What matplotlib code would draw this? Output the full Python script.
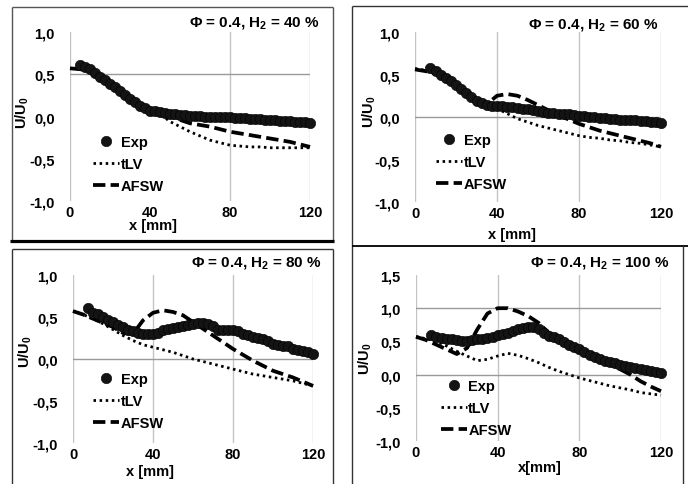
import numpy as np
import matplotlib
matplotlib.use('Agg')
import matplotlib.pyplot as plt
from matplotlib.lines import Line2D

plt.rcParams['font.family'] = ['Liberation Sans', 'DejaVu Sans']
plt.rcParams['font.weight'] = 'bold'
plt.rcParams['mathtext.fontset'] = 'custom'
plt.rcParams['mathtext.rm'] = 'Liberation Sans:bold'
plt.rcParams['mathtext.it'] = 'Liberation Sans:bold'
plt.rcParams['mathtext.bf'] = 'Liberation Sans:bold'

W, H = 688, 485

# model curves, x = 0..120 mm every 5 mm
x_model = np.arange(0, 121, 5)

# ---- H2 = 40 %
exp40 = [0.61, 0.59, 0.56, 0.52, 0.47, 0.43, 0.39, 0.35, 0.30, 0.25, 0.21, 0.17,
         0.13, 0.10, 0.07, 0.06, 0.05, 0.04, 0.03, 0.03, 0.02, 0.02, 0.01, 0.01,
         0.01, 0.00, 0.00, 0.00, -0.01, -0.01, -0.01, -0.02, -0.02, -0.02, -0.03,
         -0.03, -0.03, -0.04, -0.04, -0.04, -0.05, -0.05, -0.05, -0.06, -0.06,
         -0.07, -0.08]
tlv40 = [0.57, 0.56, 0.54, 0.48, 0.41, 0.33, 0.24, 0.16, 0.09, 0.03, -0.06, -0.12,
         -0.18, -0.23, -0.28, -0.31, -0.34, -0.35, -0.36, -0.36, -0.37, -0.37,
         -0.37, -0.37, -0.37]
afsw40 = [0.57, 0.56, 0.54, 0.48, 0.41, 0.33, 0.24, 0.16, 0.09, 0.04, 0.00, -0.04,
          -0.08, -0.10, -0.12, -0.15, -0.18, -0.20, -0.22, -0.24, -0.26, -0.28,
          -0.30, -0.33, -0.36]

# ---- H2 = 60 %
exp60 = [0.58, 0.54, 0.50, 0.46, 0.42, 0.38, 0.33, 0.28, 0.23, 0.19, 0.16, 0.14,
         0.13, 0.13, 0.13, 0.12, 0.12, 0.11, 0.10, 0.09, 0.08, 0.07, 0.06, 0.05,
         0.05, 0.04, 0.04, 0.03, 0.02, 0.01, 0.01, 0.00, 0.00, -0.01, -0.01, -0.02,
         -0.02, -0.03, -0.03, -0.04, -0.04, -0.05, -0.05, -0.06, -0.06, -0.07]
tlv60 = [0.57, 0.55, 0.52, 0.46, 0.39, 0.31, 0.22, 0.15, 0.10, 0.04, -0.02, -0.06,
         -0.10, -0.13, -0.16, -0.19, -0.22, -0.24, -0.25, -0.27, -0.28, -0.30,
         -0.31, -0.33, -0.35]
afsw60 = [0.56, 0.54, 0.51, 0.45, 0.38, 0.30, 0.21, 0.15, 0.25, 0.27, 0.25, 0.20,
          0.14, 0.08, 0.02, -0.03, -0.08, -0.12, -0.16, -0.19, -0.22, -0.25,
          -0.28, -0.31, -0.35]

# ---- H2 = 80 %
exp80 = [0.61, 0.55, 0.53, 0.50, 0.47, 0.44, 0.41, 0.38, 0.35, 0.33, 0.31, 0.30,
         0.30, 0.30, 0.31, 0.34, 0.36, 0.37, 0.38, 0.39, 0.40, 0.42, 0.43, 0.43,
         0.42, 0.39, 0.35, 0.34, 0.35, 0.35, 0.33, 0.30, 0.28, 0.26, 0.25, 0.24,
         0.21, 0.18, 0.17, 0.16, 0.15, 0.12, 0.11, 0.10, 0.08, 0.06]
tlv80 = [0.57, 0.53, 0.48, 0.42, 0.35, 0.28, 0.22, 0.17, 0.14, 0.11, 0.08, 0.04,
         0.00, -0.03, -0.06, -0.09, -0.12, -0.15, -0.18, -0.20, -0.22, -0.24,
         -0.26, -0.29, -0.32]
afsw80 = [0.57, 0.53, 0.48, 0.43, 0.38, 0.31, 0.30, 0.46, 0.55, 0.58, 0.56, 0.52,
          0.44, 0.36, 0.28, 0.20, 0.12, 0.05, -0.02, -0.08, -0.14, -0.18, -0.22,
          -0.27, -0.32]

# ---- H2 = 100 %
exp100 = [0.59, 0.57, 0.55, 0.54, 0.53, 0.52, 0.51, 0.51, 0.52, 0.53, 0.54, 0.55,
          0.57, 0.59, 0.61, 0.63, 0.66, 0.68, 0.70, 0.71, 0.71, 0.69, 0.62, 0.58,
          0.56, 0.53, 0.49, 0.45, 0.41, 0.38, 0.34, 0.30, 0.27, 0.24, 0.21, 0.19,
          0.17, 0.15, 0.13, 0.11, 0.10, 0.08, 0.07, 0.05, 0.04, 0.02]
tlv100 = [0.57, 0.54, 0.50, 0.43, 0.35, 0.28, 0.21, 0.23, 0.28, 0.32, 0.29, 0.24,
          0.18, 0.11, 0.05, 0.00, -0.05, -0.09, -0.13, -0.17, -0.20, -0.23, -0.27,
          -0.29, -0.31]
afsw100 = [0.57, 0.52, 0.45, 0.38, 0.31, 0.40, 0.68, 0.92, 1.00, 1.00, 0.95, 0.88,
           0.78, 0.63, 0.53, 0.45, 0.38, 0.30, 0.23, 0.16, 0.08, 0.00, -0.10,
           -0.18, -0.25]

# layout of the four pasted screenshots (pixels)
panels = [
    dict(exp=exp40, x0=5, tlv=tlv40, afsw=afsw40, h2='40', box=(70, 33, 310, 202),
         ylim=(-1, 1), yt=[-1, -0.5, 0, 0.5, 1], vgrid=[0, 80, 120], hgrid=[0.5],
         xlab=(0.346, -0.14, 'x [mm]'), ylab=(-0.2, 0.53), title=(1.042, 1.059),
         leg=(0.096, 0.39)),
    dict(exp=exp60, x0=7.5, tlv=tlv60, afsw=afsw60, h2='60', box=(415, 33, 661, 203),
         ylim=(-1, 1), yt=[-1, -0.5, 0, 0.5, 1], vgrid=[0, 40, 80, 120], hgrid=[0],
         xlab=(0.394, -0.19, 'x [mm]'), ylab=(-0.185, 0.535), title=(0.992, 1.047),
         leg=(0.085, 0.405)),
    dict(exp=exp80, x0=7.5, tlv=tlv80, afsw=afsw80, h2='80', box=(73, 276, 313, 444),
         ylim=(-1, 1), yt=[-1, -0.5, 0, 0.5, 1], vgrid=[0, 40, 80, 120], hgrid=[0],
         xlab=(0.32, -0.165, 'x [mm]'), ylab=(-0.2, 0.548), title=(1.0375, 1.077),
         leg=(0.083, 0.42)),
    dict(exp=exp100, x0=7.5, tlv=tlv100, afsw=afsw100, h2='100', box=(416, 276, 661, 442),
         ylim=(-1, 1.5), yt=[-1, -0.5, 0, 0.5, 1, 1.5], vgrid=[0, 40, 80, 120],
         hgrid=[0, 1], xlab=(0.506, -0.155, 'x[mm]'), ylab=(-0.205, 0.5),
         title=(1.033, 1.078), leg=(0.10, 0.375)),
]

fig = plt.figure(figsize=(W / 100, H / 100), dpi=100)


def fx(x):
    return x / W


def fy(y):
    return 1 - y / H


def fline(x1, y1, x2, y2, color='#555555', lw=1.0):
    fig.add_artist(Line2D([fx(x1), fx(x2)], [fy(y1), fy(y2)], color=color, lw=lw,
                          solid_capstyle='butt'))


# screenshot frames
fline(12, 8, 333, 8)
fline(12, 8, 12, 242)
fline(333, 8, 333, 242)
fline(10, 242, 334, 242, color='black', lw=2.3)
fline(352, 7, 688, 7, color='#333333')
fline(352, 7, 352, 485, color='#333333')
fline(352, 247, 688, 247, color='black', lw=1.3)
fline(683, 247, 683, 485, color='#333333')
fline(12, 250, 333, 250, color='#333333')
fline(12, 250, 12, 485, color='#333333')
fline(333, 250, 333, 485, color='#333333')

FS = 10.5

for p in panels:
    l, t, r, b = p['box']
    ax = fig.add_axes([fx(l), fy(b), (r - l) / W, (b - t) / H])
    for s in ax.spines.values():
        s.set_visible(False)
    for g in p['vgrid']:
        ax.axvline(g, color='#c4c4c4', lw=1.0, zorder=0)
    for g in p['hgrid']:
        ax.axhline(g, color='#9a9a9a', lw=1.0, zorder=0)

    xe = np.linspace(p['x0'], 120, len(p['exp']))
    ax.plot(x_model, p['tlv'], color='black', lw=2.0, linestyle=(0, (0.9, 1.3)),
            label='tLV', clip_on=False, zorder=2)
    ax.plot(x_model, p['afsw'], color='black', lw=2.7, linestyle=(0, (3.3, 1.4)),
            label='AFSW', clip_on=False, zorder=2)
    ax.plot(xe, p['exp'], 'o', color='#141414', mec='#000000', mew=0.4, ms=7.5,
            label='Exp', clip_on=False, zorder=3)

    ax.set_xlim(0, 120)
    ax.set_ylim(*p['ylim'])
    ax.set_xticks([0, 40, 80, 120])
    ax.set_yticks(p['yt'])
    ax.set_yticklabels([('%.1f' % v).replace('.', ',') for v in p['yt']])
    ax.tick_params(length=0, labelsize=FS)
    ax.tick_params(axis='y', pad=11)
    ax.tick_params(axis='x', pad=3)
    for lab in ax.get_xticklabels() + ax.get_yticklabels():
        lab.set_fontweight('bold')

    xl = p['xlab']
    ax.text(xl[0], xl[1], xl[2], transform=ax.transAxes, ha='center', va='center',
            fontsize=FS, fontweight='bold')
    yl = p['ylab']
    ax.text(yl[0], yl[1], 'U/U$_0$', transform=ax.transAxes, ha='center',
            va='center', rotation=90, fontsize=FS, fontweight='bold')
    tt = p['title']
    ax.text(tt[0], tt[1], '\u03a6 = 0.4, H$_2$ = ' + p['h2'] + ' %',
            transform=ax.transAxes, ha='right', va='center', fontsize=11,
            fontweight='bold')

    h, lb = ax.get_legend_handles_labels()
    order = [2, 0, 1]
    ax.legend([h[i] for i in order], [lb[i] for i in order], loc='upper left',
              bbox_to_anchor=p['leg'], frameon=False, borderpad=0,
              borderaxespad=0, handlelength=1.8, handletextpad=0.1,
              labelspacing=0.55, prop={'size': FS, 'weight': 'bold'})

fig.savefig('out.png', dpi=100)
